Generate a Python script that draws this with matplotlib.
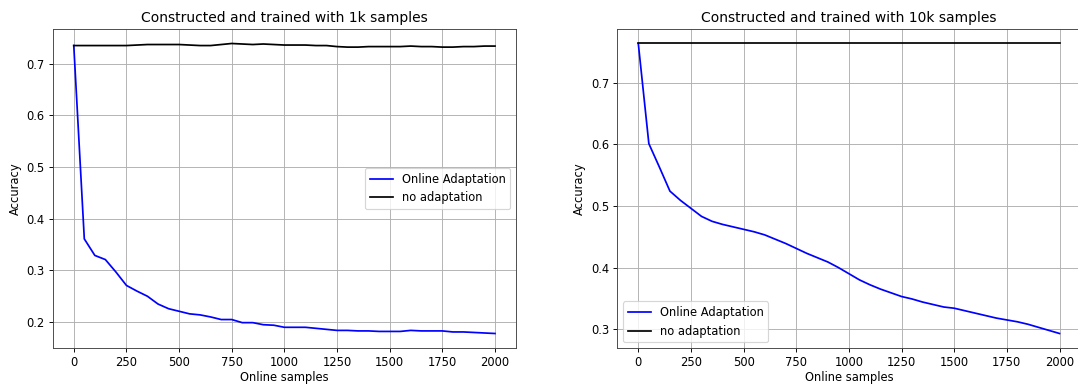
import matplotlib
matplotlib.use("Agg")
import matplotlib.pyplot as plt
import numpy as np

# ==============================================================================
# Dados
# ==============================================================================
online_samples = np.arange(0, 2001, 50)

acc_online_1k = [
    0.735, 0.361, 0.329, 0.321, 0.297, 0.271, 0.260, 0.250, 0.235, 0.226,
    0.221, 0.216, 0.214, 0.210, 0.205, 0.205, 0.199, 0.199, 0.195, 0.194,
    0.190, 0.190, 0.190, 0.188, 0.186, 0.184, 0.184, 0.183, 0.183, 0.182,
    0.182, 0.182, 0.184, 0.183, 0.183, 0.183, 0.181, 0.181, 0.180, 0.179,
    0.178,
]
acc_noadapt_1k = [
    0.735, 0.735, 0.735, 0.735, 0.735, 0.735, 0.736, 0.737, 0.737, 0.737,
    0.737, 0.736, 0.735, 0.735, 0.737, 0.739, 0.738, 0.737, 0.738, 0.737,
    0.736, 0.736, 0.736, 0.735, 0.735, 0.733, 0.732, 0.732, 0.733, 0.733,
    0.733, 0.733, 0.734, 0.733, 0.733, 0.732, 0.732, 0.733, 0.733, 0.734,
    0.734,
]

acc_online_10k = [
    0.763, 0.601, 0.563, 0.524, 0.509, 0.496, 0.483, 0.475, 0.470, 0.466,
    0.462, 0.458, 0.453, 0.446, 0.439, 0.431, 0.423, 0.416, 0.409, 0.400,
    0.390, 0.380, 0.372, 0.365, 0.359, 0.353, 0.349, 0.344, 0.340, 0.336,
    0.334, 0.330, 0.326, 0.322, 0.318, 0.315, 0.312, 0.308, 0.303, 0.298,
    0.293,
]
acc_noadapt_10k = [0.7635] * len(online_samples)

titles = ['Constructed and trained with 1k samples',
          'Constructed and trained with 10k samples']

# ==============================================================================
# Plotagem
# ==============================================================================
DPI = 83
fig = plt.figure(figsize=(1078 / DPI, 385 / DPI), dpi=DPI)
ax1 = fig.add_axes([0.0489, 0.0961, 0.4298, 0.8286])
ax2 = fig.add_axes([0.5726, 0.0961, 0.4298, 0.8286])

paineis = [
    (ax1, acc_online_1k, acc_noadapt_1k, titles[0], 'center right'),
    (ax2, acc_online_10k, acc_noadapt_10k, titles[1], 'lower left'),
]

for ax, online, noadapt, titulo, loc in paineis:
    ax.plot(online_samples, online, color='blue', label='Online Adaptation')
    ax.plot(online_samples, noadapt, color='black', label='no adaptation')
    ax.set_title(titulo)
    ax.set_xlabel('Online samples', labelpad=2)
    ax.set_ylabel('Accuracy')
    ax.set_xticks(np.arange(0, 2001, 250))
    ax.grid(True)
    ax.legend(loc=loc)
    for spine in ax.spines.values():
        spine.set_color('#444444')

fig.savefig('out.png', dpi=DPI)
